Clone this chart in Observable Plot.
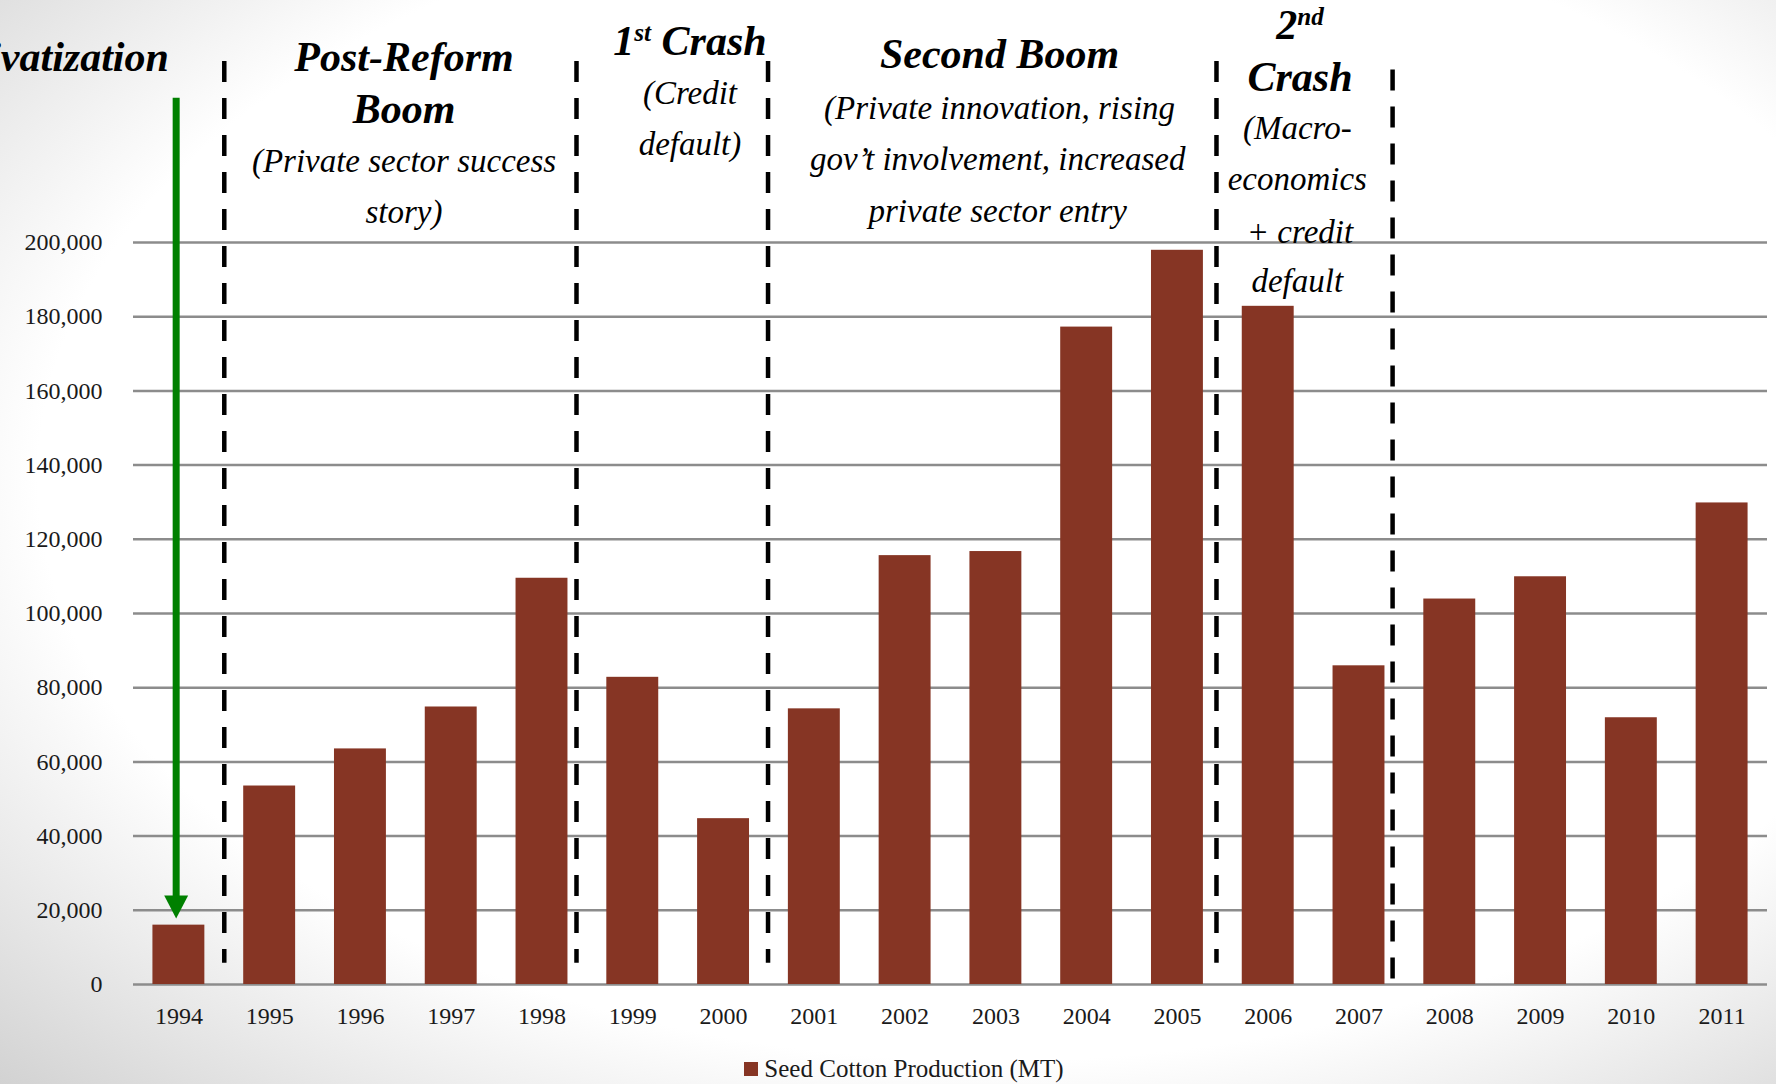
<!DOCTYPE html>
<html><head><meta charset="utf-8">
<script src="https://cdn.jsdelivr.net/npm/d3@7"></script>
<script src="https://cdn.jsdelivr.net/npm/@observablehq/plot@0.6"></script>
<style>
html,body{margin:0;padding:0;width:1776px;height:1084px;overflow:hidden;}
body{background: radial-gradient(ellipse at 56% 44%, #ffffff 68%, #d2d2d2 100%); font-family:"Liberation Serif", serif;}
#legend{height:38px;box-sizing:border-box;padding-top:8px;padding-left:32px;display:flex;align-items:center;justify-content:center;font-size:25px;color:#1a1a1a;font-family:"Liberation Serif", serif;}
#legend .sw{display:inline-block;width:14px;height:14px;background:#863524;margin-right:6px;}
</style></head><body>
<div id="chart"></div>
<div id="legend"><span class="sw"></span><span>Seed Cotton Production (MT)</span></div>
<script>
// ---- data ----
const years = [1994,1995,1996,1997,1998,1999,2000,2001,2002,2003,2004,2005,2006,2007,2008,2009,2010,2011];
const production = [16000,53500,63500,74800,109500,82800,44700,74300,115600,116700,177200,197900,182800,85900,103900,109900,71900,129800];
const yTicks = [0,20000,40000,60000,80000,100000,120000,140000,160000,180000,200000];

// period separators (dashed lines), x in year units, extent in value units
const sepX = [1994.5, 1998.38, 2000.49, 2005.43, 2007.37];
const sepTop = [248800, 248800, 248800, 248800, 246500];
const sepBottom = [5700, 5700, 5700, 5700, 0];

// privatization arrow
const arrowX = [1993.97];
const arrowTop = [238900];
const arrowBottom = [22000];
const arrowHeadY = [20900];

// annotation headings (bold italic)
const headerText = ["Post-Reform","Boom","1{st} Crash","Second Boom","2{nd}","Crash"];
const headerX = [1996.48,1996.48,1999.63,2003.04,2006.35,2006.35];
const headerY = [249900,235800,254200,250700,258400,244500];
const leftText = ["Privatization"];
const leftX = [1993.89];
const leftY = [249900];

// annotation descriptions (italic)
const subText = ["(Private sector success","story)","(Credit","default)","(Private innovation, rising","gov’t involvement, increased","private sector entry","(Macro-","economics","+ credit","default"];
const subX = [1996.48,1996.48,1999.63,1999.63,2003.04,2003.02,2003.02,2006.32,2006.32,2006.35,2006.32];
const subY = [221800,208100,240200,226400,236100,222400,208400,230700,217000,202800,189500];

// ---- build tables ----
const bars = years.map((y,i)=>({year:y, value:production[i]}));
const seps = sepX.map((x,i)=>({x, top:sepTop[i], bottom:sepBottom[i]}));
const arrow = arrowX.map((x,i)=>({x, top:arrowTop[i], bottom:arrowBottom[i], head:arrowHeadY[i]}));
const headers = headerText.map((t,i)=>({t, x:headerX[i], y:headerY[i]}));
const lefts = leftText.map((t,i)=>({t, x:leftX[i], y:leftY[i]}));
const subs = subText.map((t,i)=>({t, x:subX[i], y:subY[i]}));

const serif = "Liberation Serif";
const half = 0.286; // bar half-width in year units
const downTriangle = {
  draw(ctx, size) {
    const k = Math.sqrt(size/Math.PI);
    ctx.moveTo(-1.33*k, -1.28*k);
    ctx.lineTo(1.33*k, -1.28*k);
    ctx.lineTo(0, 1.28*k);
    ctx.closePath();
  }
};

const chart = Plot.plot({
  width:1776, height:1046,
  marginLeft:133, marginRight:9, marginTop:242, marginBottom:62,
  style:{background:"transparent", fontFamily:"'Liberation Serif', serif", fontSize:"24px", color:"#1a1a1a"},
  x:{domain:[1993.5,2011.5], label:null},
  y:{domain:[0,200000], label:null},
  marks:[
    Plot.ruleY(yTicks,{stroke:"#8c8c8c", strokeWidth:2.5}),
    Plot.rectY(bars,{x1:d=>d.year-half, x2:d=>d.year+half, y1:0, y2:"value", fill:"#863524"}),
    Plot.axisY({ticks:yTicks, tickSize:0, tickPadding:31, tickFormat:d3.format(","), fontSize:24, fontFamily:serif, label:null}),
    Plot.axisX({ticks:years, tickSize:0, tickPadding:22, tickFormat:d=>String(d), fontSize:24, fontFamily:serif, label:null}),
    Plot.ruleX(seps,{x:"x", y1:"top", y2:"bottom", stroke:"black", strokeWidth:4.5, strokeDasharray:"21,16"}),
    Plot.ruleX(arrow,{x:"x", y1:"top", y2:"bottom", stroke:"#008000", strokeWidth:7}),
    Plot.dot(arrow,{x:"x", y:"head", symbol:downTriangle, r:9, fill:"#008000", stroke:"none"}),
    Plot.text(headers,{x:"x", y:"y", text:"t", fontSize:42, fontWeight:"bold", fontStyle:"italic", fontFamily:serif, fill:"black"}),
    Plot.text(lefts,{x:"x", y:"y", text:"t", fontSize:42, fontWeight:"bold", fontStyle:"italic", fontFamily:serif, fill:"black", textAnchor:"end"}),
    Plot.text(subs,{x:"x", y:"y", text:"t", fontSize:33, fontStyle:"italic", fontFamily:serif, fill:"black"})
  ]
});

// superscripts: "1{st}" -> 1 + raised "st"
d3.select(chart).selectAll("text").each(function(){
  const t = this.textContent;
  if (!t.includes("{")) return;
  const sel = d3.select(this);
  sel.text(null);
  const parts = t.split(/(\{[^}]*\})/);
  let shifted = false;
  parts.forEach(p => {
    if (!p) return;
    if (p.startsWith("{")) {
      sel.append("tspan").attr("font-size","60%").attr("dy","-0.55em").text(p.slice(1,-1));
      shifted = true;
    } else {
      const ts = sel.append("tspan").text(p);
      if (shifted) { ts.attr("dy","0.33em"); shifted = false; }
    }
  });
});

document.getElementById("chart").appendChild(chart);
</script>
</body></html>
